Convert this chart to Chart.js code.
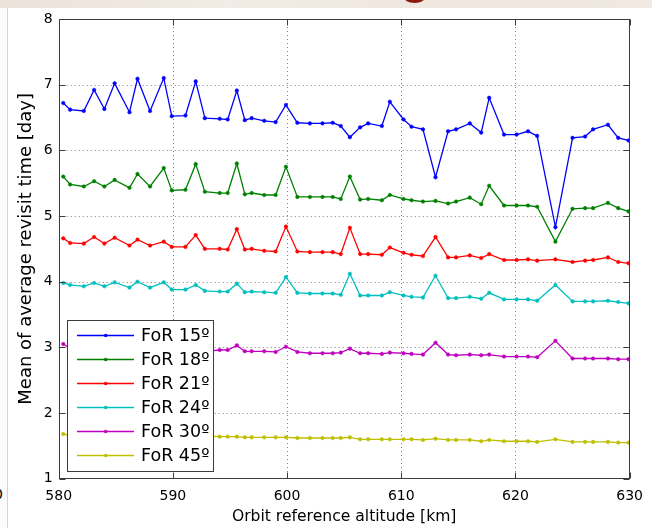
<!DOCTYPE html>
<html><head><meta charset="utf-8">
<script src="https://cdn.jsdelivr.net/npm/chart.js@4.4.0/dist/chart.umd.min.js"></script>
<style>
html,body{margin:0;padding:0;background:#fff;}
#wrap{position:relative;width:652px;height:528px;overflow:hidden;background:#fff;}
#c{position:absolute;left:0;top:0;}
#band{position:absolute;left:0;top:0;width:652px;height:8px;background:linear-gradient(90deg,#ebe2da,#f2ece6 35%,#efe7e0 65%,#f0e9e2);overflow:hidden;}
#g{position:absolute;left:400px;top:-53px;font:bold 50px "Liberation Sans",Arial,sans-serif;color:#8a1a12;}
#strip{position:absolute;left:0;top:8px;width:7px;height:520px;border-right:1px solid #d9d3cd;background:#fcfbfa;}
#zero{position:absolute;left:-6px;top:486px;font:14px "DejaVu Sans",sans-serif;color:#000;}
</style></head>
<body><div id="wrap">
<canvas id="c" width="652" height="528"></canvas>
<div id="band"><span id="g">g</span></div>
<div id="strip"></div>
<span id="zero">0</span>
</div>
<script>
const altitude = [580.4,581.0,582.2,583.1,584.0,584.9,586.2,586.9,588.0,589.2,589.9,591.1,592.0,592.8,594.1,594.8,595.6,596.3,596.9,598.0,599.0,599.9,600.9,602.0,603.1,604.0,604.7,605.5,606.4,607.1,608.3,609.0,610.2,610.9,611.9,613.0,614.1,614.8,616.0,617.0,617.7,619.0,620.1,621.1,621.9,623.5,625.0,626.1,626.8,628.1,629.0,629.9];
const for15 = [6.72,6.62,6.60,6.92,6.63,7.02,6.58,7.09,6.60,7.10,6.52,6.53,7.05,6.49,6.48,6.47,6.91,6.46,6.49,6.45,6.43,6.69,6.42,6.41,6.41,6.42,6.37,6.20,6.35,6.41,6.37,6.74,6.47,6.36,6.32,5.59,6.29,6.32,6.41,6.27,6.80,6.24,6.24,6.29,6.22,4.83,6.19,6.21,6.32,6.39,6.19,6.15];
const for18 = [5.60,5.48,5.45,5.53,5.45,5.55,5.43,5.64,5.45,5.73,5.39,5.40,5.79,5.37,5.35,5.35,5.80,5.33,5.35,5.32,5.32,5.75,5.29,5.29,5.29,5.29,5.26,5.60,5.25,5.26,5.24,5.32,5.26,5.24,5.22,5.23,5.19,5.22,5.28,5.18,5.46,5.16,5.16,5.16,5.14,4.61,5.11,5.12,5.12,5.20,5.12,5.07];
const for21 = [4.66,4.59,4.58,4.68,4.58,4.67,4.55,4.64,4.55,4.61,4.53,4.53,4.71,4.50,4.50,4.49,4.80,4.49,4.50,4.47,4.46,4.84,4.46,4.45,4.45,4.45,4.42,4.82,4.42,4.42,4.41,4.52,4.44,4.41,4.39,4.68,4.37,4.37,4.40,4.36,4.42,4.33,4.33,4.34,4.32,4.34,4.30,4.32,4.33,4.37,4.30,4.28];
const for24 = [3.98,3.95,3.93,3.98,3.93,3.99,3.91,4.00,3.91,3.99,3.88,3.88,3.95,3.86,3.85,3.85,3.97,3.84,3.85,3.84,3.83,4.07,3.83,3.82,3.82,3.82,3.80,4.12,3.79,3.79,3.79,3.84,3.79,3.77,3.76,4.09,3.75,3.75,3.77,3.74,3.83,3.73,3.73,3.73,3.71,3.95,3.70,3.70,3.70,3.71,3.69,3.67];
const for30 = [3.05,2.98,2.97,3.00,2.97,3.00,2.96,3.01,2.96,3.00,2.95,2.95,3.01,2.94,2.96,2.96,3.03,2.94,2.94,2.94,2.93,3.01,2.93,2.91,2.91,2.91,2.92,2.98,2.91,2.91,2.90,2.92,2.91,2.90,2.89,3.07,2.89,2.88,2.89,2.88,2.89,2.86,2.86,2.86,2.85,3.10,2.83,2.83,2.83,2.83,2.82,2.82];
const for45 = [1.68,1.66,1.66,1.67,1.66,1.67,1.66,1.67,1.66,1.67,1.65,1.65,1.66,1.65,1.64,1.64,1.64,1.63,1.63,1.63,1.63,1.63,1.62,1.62,1.62,1.62,1.62,1.63,1.60,1.60,1.60,1.60,1.60,1.60,1.59,1.61,1.59,1.59,1.59,1.57,1.59,1.57,1.57,1.57,1.56,1.60,1.56,1.56,1.56,1.56,1.55,1.55];
const seriesNames = ['FoR 15º','FoR 18º','FoR 21º','FoR 24º','FoR 30º','FoR 45º'];
const seriesValues = [for15,for18,for21,for24,for30,for45];
const seriesColors = ['#0000ff','#008000','#ff0000','#00bfbf','#bf00bf','#bfbf00'];
const xTicks = [580,590,600,610,620,630];
const yTicks = [1,2,3,4,5,6,7,8];

const datasets = seriesValues.map((vals,i)=>({
  label: seriesNames[i],
  data: vals.map((v,j)=>({x: altitude[j], y: v})),
  borderColor: seriesColors[i],
  backgroundColor: seriesColors[i],
  pointBackgroundColor: seriesColors[i],
  pointBorderColor: seriesColors[i],
  borderWidth: 1.3,
  pointRadius: 1.8,
  pointBorderWidth: 0.5,
  tension: 0,
  fill: false
}));

const framePlugin = {
  id: 'frame',
  beforeDatasetsDraw(chart){
    const {ctx, chartArea:a, scales:{x,y}} = chart;
    ctx.save();
    ctx.strokeStyle = 'rgba(0,0,0,0.5)';
    ctx.lineWidth = 1;
    ctx.setLineDash([1,3]);
    xTicks.slice(1,-1).forEach(v=>{
      const px = Math.round(x.getPixelForValue(v))+0.5;
      ctx.beginPath(); ctx.moveTo(px,a.top); ctx.lineTo(px,a.bottom); ctx.stroke();
    });
    yTicks.slice(1,-1).forEach(v=>{
      const py = Math.round(y.getPixelForValue(v))+0.5;
      ctx.beginPath(); ctx.moveTo(a.left,py); ctx.lineTo(a.right,py); ctx.stroke();
    });
    ctx.restore();
  },
  afterDatasetsDraw(chart){
    const {ctx, chartArea:a, scales:{x,y}} = chart;
    ctx.save();
    ctx.strokeStyle = '#3c3c3c';
    ctx.lineWidth = 1;
    const L = Math.round(a.left)+0.5, R = Math.round(a.right)-0.5, T = Math.round(a.top)+0.5, B = Math.round(a.bottom)-0.5;
    ctx.strokeRect(L, T, R-L, B-T);
    ctx.beginPath();
    xTicks.forEach(v=>{
      const px = Math.round(x.getPixelForValue(v))+0.5;
      ctx.moveTo(px,B); ctx.lineTo(px,B-6);
      ctx.moveTo(px,T); ctx.lineTo(px,T+6);
    });
    yTicks.forEach(v=>{
      const py = Math.round(y.getPixelForValue(v))+0.5;
      ctx.moveTo(L,py); ctx.lineTo(L+6,py);
      ctx.moveTo(R,py); ctx.lineTo(R-6,py);
    });
    ctx.stroke();
    // legend
    const lx = 67, ly = 320, lw = 146, lh = 151;
    ctx.fillStyle = '#fff';
    ctx.fillRect(lx, ly, lw, lh);
    ctx.strokeStyle = '#3c3c3c';
    ctx.strokeRect(lx+0.5, ly+0.5, lw, lh);
    ctx.font = '17.5px "DejaVu Sans", sans-serif';
    ctx.textBaseline = 'middle';
    ctx.textAlign = 'left';
    seriesNames.forEach((name,i)=>{
      const cy = 335 + i*24;
      ctx.strokeStyle = seriesColors[i];
      ctx.lineWidth = 1.3;
      ctx.beginPath(); ctx.moveTo(77,cy+0.5); ctx.lineTo(134,cy+0.5); ctx.stroke();
      ctx.fillStyle = seriesColors[i];
      ctx.beginPath(); ctx.arc(105.7,cy+0.5,1.8,0,Math.PI*2); ctx.fill();
      ctx.fillStyle = '#000';
      ctx.fillText(name, 141, cy+1);
    });
    ctx.restore();
  }
};

new Chart(document.getElementById('c'), {
  type: 'line',
  data: { datasets },
  options: {
    responsive: false,
    animation: false,
    devicePixelRatio: 1,
    layout: { padding: { top: 19, right: 9, left: 0, bottom: 0 } },
    plugins: { legend: { display: false }, tooltip: { enabled: false } },
    scales: {
      x: {
        type: 'linear', min: 580, max: 630,
        afterBuildTicks(s){ s.ticks = xTicks.map(v=>({value:v})); },
        afterFit(s){ s.height = 49.3; },
        grid: { display: false, drawTicks: false },
        border: { display: false },
        ticks: { color: '#000', padding: 9, maxRotation: 0, font: { family: '"DejaVu Sans", sans-serif', size: 14 } },
        title: { display: true, text: 'Orbit reference altitude [km]', color: '#000', padding: { top: 0, bottom: 2 }, font: { family: '"DejaVu Sans", sans-serif', size: 15.6 } }
      },
      y: {
        type: 'linear', min: 1, max: 8,
        afterBuildTicks(s){ s.ticks = yTicks.map(v=>({value:v})); },
        afterFit(s){ s.width = 58.7; },
        grid: { display: false, drawTicks: false },
        border: { display: false },
        ticks: { color: '#000', padding: 6, font: { family: '"DejaVu Sans", sans-serif', size: 14 } },
        title: { display: true, text: 'Mean of average revisit time [day]', color: '#000', padding: { top: 15.5, bottom: 0 }, font: { family: '"DejaVu Sans", sans-serif', size: 18 } }
      }
    }
  },
  plugins: [framePlugin]
});
</script>
</body></html>
